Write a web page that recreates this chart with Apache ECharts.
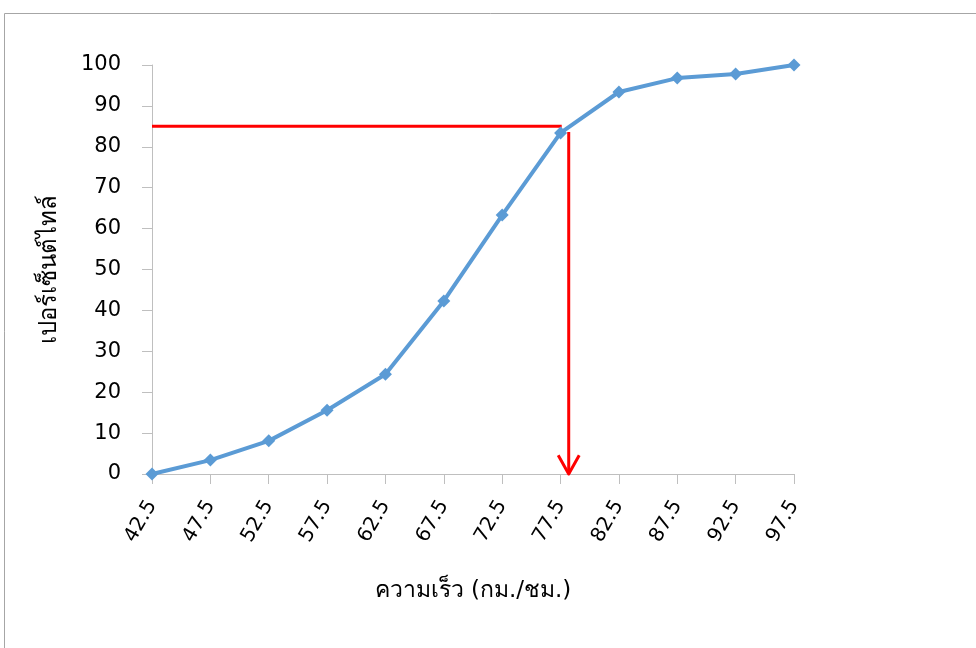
<!DOCTYPE html>
<html><head><meta charset="utf-8">
<script src="https://cdn.jsdelivr.net/npm/echarts@6/dist/echarts.min.js"></script>
<style>html,body{margin:0;padding:0;background:#fff}#c{width:976px;height:648px}</style>
</head><body><div id="c"></div>
<script>
const categories = ['42.5','47.5','52.5','57.5','62.5','67.5','72.5','77.5','82.5','87.5','92.5','97.5'];
const percentiles = [0, 3.4, 8.1, 15.6, 24.4, 42.3, 63.3, 83.4, 93.4, 96.8, 97.8, 100];
const yTicks = {min: 0, max: 100, interval: 10};
const xTitle = 'ความเร็ว (กม./ชม.)';
const yTitle = 'เปอร์เซ็นต์ไทล์';
const guideH = [[42.5, 85], [77.6, 85]];
const guideV = [[78.2, 83.6], [78.2, 0]];
const arrowHead = [[77.3, 4.6], [78.2, 0], [79.1, 4.6]];

const font = 'Tahoma, "DejaVu Sans", "Noto Sans", sans-serif';
const chart = echarts.init(document.getElementById('c'), null, {renderer: 'canvas'});
chart.setOption({
  animation: false,
  backgroundColor: '#fff',
  graphic: [{type: 'rect', shape: {x: 4.5, y: 13.5, width: 1000, height: 700}, style: {fill: 'none', stroke: '#a6a6a6', lineWidth: 1}, silent: true, z: -1}],
  grid: {left: 152, top: 65, right: 182, bottom: 174, containLabel: false},
  xAxis: [{
    type: 'category', data: categories, boundaryGap: false,
    axisLine: {lineStyle: {color: '#bfbfbf', width: 1}},
    axisTick: {show: true, alignWithLabel: true, length: 10, lineStyle: {color: '#bfbfbf'}},
    axisLabel: {rotate: 60, color: '#000', fontSize: 20, fontFamily: font, margin: 28, interval: 0},
    name: xTitle, nameLocation: 'middle', nameGap: 106,
    nameTextStyle: {color: '#000', fontSize: 23, fontFamily: font},
    splitLine: {show: false}
  }, {
    type: 'value', min: 42.5, max: 97.5, show: false
  }],
  yAxis: {
    type: 'value', min: yTicks.min, max: yTicks.max, interval: yTicks.interval,
    axisLine: {show: true, lineStyle: {color: '#bfbfbf', width: 1}},
    axisTick: {show: true, length: 10, lineStyle: {color: '#bfbfbf'}},
    axisLabel: {color: '#000', fontSize: 21, fontFamily: font, margin: 31},
    splitLine: {show: false},
    name: yTitle, nameLocation: 'middle', nameGap: 90,
    nameTextStyle: {color: '#000', fontSize: 24, fontFamily: font}
  },
  series: [{
    type: 'line', data: percentiles, xAxisIndex: 0,
    symbol: 'diamond', symbolSize: 13,
    lineStyle: {color: '#5b9bd5', width: 4},
    itemStyle: {color: '#5b9bd5'}, z: 3
  }, {
    type: 'line', data: guideH, xAxisIndex: 1, symbol: 'none',
    lineStyle: {color: '#ff0000', width: 3}, z: 2
  }, {
    type: 'line', data: guideV, xAxisIndex: 1, symbol: 'none',
    lineStyle: {color: '#ff0000', width: 3}, z: 2
  }, {
    type: 'line', data: arrowHead, xAxisIndex: 1, symbol: 'none',
    lineStyle: {color: '#ff0000', width: 3, join: 'miter'}, z: 2
  }]
});
</script></body></html>
